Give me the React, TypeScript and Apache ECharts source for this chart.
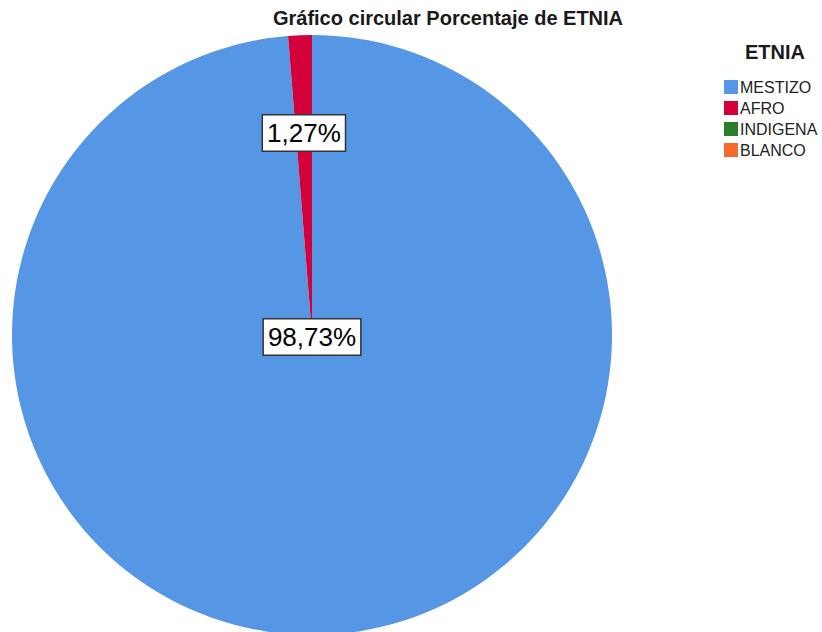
import React, { useEffect, useRef } from "react";
import * as echarts from "echarts";

const categories = ["MESTIZO", "AFRO", "INDIGENA", "BLANCO"];
const percents = [98.73, 1.27, 0, 0];
const colors = ["#5596e5", "#d4003c", "#2a7d2a", "#f26b2c"];
const titleText = "Gráfico circular Porcentaje de ETNIA";
const legendTitle = "ETNIA";

export default function App() {
  const ref = useRef<HTMLDivElement>(null);
  useEffect(() => {
    if (!ref.current) return;
    const chart = echarts.init(ref.current, null, { renderer: "svg" });
    const font = "Arial, 'Liberation Sans', sans-serif";
    const data = categories.map((name, i) => ({
      name,
      value: percents[i],
      itemStyle: { color: colors[i] },
      label:
        i === 0
          ? { show: true, position: "center" }
          : i === 1
          ? { show: true, position: "inside" }
          : { show: false },
    }));
    chart.setOption({
      animation: false,
      backgroundColor: "#ffffff",
      title: [
        {
          text: titleText,
          left: 443,
          top: 3,
          textAlign: "center",
          textStyle: { fontFamily: font, fontSize: 20, fontWeight: "bold", color: "#1a1a1a" },
        },
        {
          text: legendTitle,
          left: 770,
          top: 37,
          textAlign: "center",
          textStyle: { fontFamily: font, fontSize: 20, fontWeight: "bold", color: "#1a1a1a" },
        },
      ],
      legend: {
        orient: "vertical",
        left: 719,
        top: 74,
        icon: "rect",
        itemWidth: 14,
        itemHeight: 14,
        itemGap: 5,
        data: categories,
        textStyle: { fontFamily: font, fontSize: 16, color: "#222", padding: [0, 0, 0, -3] },
      },
      series: [
        {
          type: "pie",
          center: [312, 335],
          radius: [0, 300],
          startAngle: 90,
          clockwise: true,
          silent: true,
          avoidLabelOverlap: false,
          itemStyle: { borderWidth: 0 },
          labelLine: { show: false },
          label: {
            fontFamily: font,
            fontSize: 26,
            color: "#000",
            backgroundColor: "#ffffff",
            borderColor: "#333",
            borderWidth: 1.5,
            padding: [4, 4, 3, 4],
            lineHeight: 28,
            formatter: (p: any) => p.value.toFixed(2).replace(".", ",") + "%",
          },
          labelLayout: (p: any) => (p.dataIndex === 1 ? { dy: -49, dx: -2 } : { dy: 2 }),
          data,
        },
      ],
    });
    return () => chart.dispose();
  }, []);
  return (
    <div
      ref={ref}
      style={{ position: "fixed", left: 0, top: 0, width: 822, height: 632 }}
    />
  );
}
